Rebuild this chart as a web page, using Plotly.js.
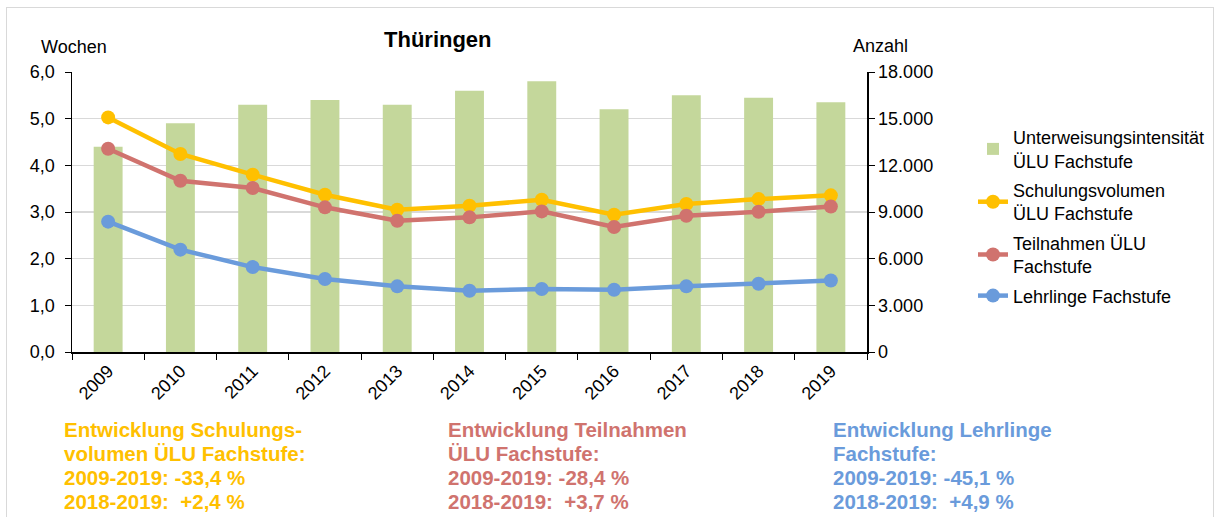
<!DOCTYPE html>
<html>
<head>
<meta charset="utf-8">
<script src="https://cdn.plot.ly/plotly-3.0.1.min.js"></script>
<style>
  html, body { margin: 0; padding: 0; background: #fff; }
  #wrap { position: relative; width: 1215px; height: 517px; }
  #chart { width: 1215px; height: 517px; }
  #frame { position: absolute; left: 6px; top: 7px; width: 1206px; height: 520px;
           border: 1px solid #d9d9d9; border-bottom: none; pointer-events: none; }
</style>
</head>
<body>
<div id="wrap">
  <div id="chart"></div>
  <div id="frame"></div>
</div>
<script>
const years = ["2009","2010","2011","2012","2013","2014","2015","2016","2017","2018","2019"];
const intensitaet = [4.4, 4.9, 5.3, 5.4, 5.3, 5.6, 5.8, 5.2, 5.5, 5.45, 5.35];
const schulungsvolumen = [15080, 12730, 11400, 10110, 9150, 9400, 9790, 8830, 9515, 9830, 10070];
const teilnahmen = [13070, 11010, 10540, 9300, 8440, 8655, 9040, 8035, 8760, 9020, 9355];
const lehrlinge = [8380, 6580, 5460, 4690, 4220, 3940, 4050, 4005, 4220, 4390, 4600];

const names = ["Unterweisungsintensität<br>ÜLU Fachstufe", "Schulungsvolumen<br>ÜLU Fachstufe",
               "Teilnahmen ÜLU<br>Fachstufe", "Lehrlinge Fachstufe"];
const titleText = "Thüringen";
const leftTitle = "Wochen";
const rightTitle = "Anzahl";
const noteGelb = ["Entwicklung Schulungs-", "volumen ÜLU Fachstufe:", "2009-2019: -33,4 %", "2018-2019:  +2,4 %"];
const noteRot = ["Entwicklung Teilnahmen", "ÜLU Fachstufe:", "2009-2019: -28,4 %", "2018-2019:  +3,7 %"];
const noteBlau = ["Entwicklung Lehrlinge", "Fachstufe:", "2009-2019: -45,1 %", "2018-2019:  +4,9 %"];

const GREEN = "#C4D79B", YELLOW = "#FFC000", RED = "#D0736E", BLUE = "#6A9BDB";
const FONT = "Liberation Sans, Arial, sans-serif";

// plot area: x 72..867 px, y 72..352 px
const L = 72, R = 867, T = 72, B = 352;
const px = v => (v - L) / (R - L);
const py = v => (B - v) / (B - T);

const lineTrace = (y, name, color, g) => ({
  type: "scatter", mode: "lines+markers", x: years, y: y, name: name, yaxis: "y2", legendgroup: g,
  line: {color: color, width: 4.5}, marker: {color: color, size: 14}, cliponaxis: false
});

const data = [
  {type: "bar", x: years, y: intensitaet, name: names[0], marker: {color: GREEN}, width: 0.4, yaxis: "y", legendgroup: "a"},
  lineTrace(schulungsvolumen, names[1], YELLOW, "b"),
  lineTrace(teilnahmen, names[2], RED, "c"),
  lineTrace(lehrlinge, names[3], BLUE, "d")
];

const annotations = [
  {text: "<b>" + titleText + "</b>", xref: "paper", yref: "paper", x: px(438), y: py(40),
   xanchor: "center", yanchor: "middle", showarrow: false, font: {size: 22, family: FONT}},
  {text: leftTitle, xref: "paper", yref: "paper", x: px(74), y: py(47),
   xanchor: "center", yanchor: "middle", showarrow: false, font: {size: 18, family: FONT}},
  {text: rightTitle, xref: "paper", yref: "paper", x: px(880), y: py(46),
   xanchor: "center", yanchor: "middle", showarrow: false, font: {size: 18, family: FONT}}
];
const noteBlocks = [[noteGelb, 62, YELLOW], [noteRot, 446, RED], [noteBlau, 831, BLUE]];
noteBlocks.forEach(([lines, x0, color]) => {
  lines.forEach((t, i) => {
    annotations.push({text: "<b>" + t + "</b>", xref: "paper", yref: "paper", x: px(x0), y: py(429 + i * 24.3),
      xanchor: "left", yanchor: "middle", align: "left", showarrow: false,
      font: {size: 20.5, family: FONT, color: color}});
  });
});

const layout = {
  width: 1215, height: 517,
  margin: {l: L, r: 1215 - R, t: T, b: 517 - B},
  paper_bgcolor: "white", plot_bgcolor: "white",
  separators: ",.",
  font: {family: FONT, size: 18, color: "#000"},
  showlegend: true,
  legend: {xref: "container", yref: "container", x: 973 / 1215, xanchor: "left", y: 1 - 119 / 517, yanchor: "top",
           font: {family: FONT, size: 18, color: "#000"}, bgcolor: "rgba(0,0,0,0)",
           tracegroupgap: 3},
  xaxis: {type: "category", range: [-0.5, 10.5], showline: true, linecolor: "#000", linewidth: 1.5,
          ticks: "outside", ticklen: 6, tickcolor: "#000", tickson: "boundaries",
          tickangle: -45, tickfont: {size: 18}, showgrid: false, zeroline: false},
  yaxis: {range: [0, 6], dtick: 1, tickformat: ".1f", showline: true, linecolor: "#000", linewidth: 1.5,
          ticks: "outside", ticklen: 6, tickcolor: "#000", showgrid: true, gridcolor: "#D9D9D9", gridwidth: 1.5,
          zeroline: false, tickfont: {size: 18}, ticklabelstandoff: 6},
  yaxis2: {range: [0, 18000], dtick: 3000, tickformat: ",d", overlaying: "y", side: "right",
           showline: true, linecolor: "#000", linewidth: 1.5, ticks: "outside", ticklen: 6, tickcolor: "#000",
           showgrid: false, zeroline: false, tickfont: {size: 18}},
  annotations: annotations
};

Plotly.newPlot("chart", data, layout, {displayModeBar: false, staticPlot: true});
</script>
</body>
</html>
